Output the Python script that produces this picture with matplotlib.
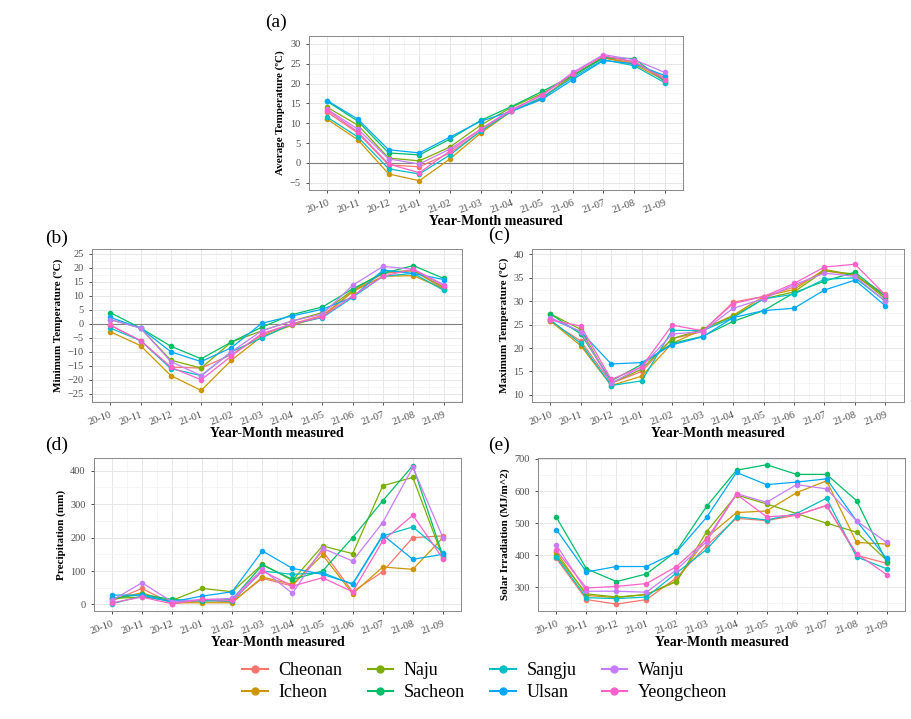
import numpy as np
import matplotlib
matplotlib.use("Agg")
import matplotlib.pyplot as plt
from matplotlib.ticker import MultipleLocator
from matplotlib.lines import Line2D

plt.rcParams['font.family'] = ['Liberation Serif', 'DejaVu Serif']

months = ['20-10', '20-11', '20-12', '21-01', '21-02', '21-03',
          '21-04', '21-05', '21-06', '21-07', '21-08', '21-09']
sites = ['Cheonan', 'Icheon', 'Naju', 'Sacheon', 'Sangju', 'Ulsan', 'Wanju', 'Yeongcheon']
colors = ['#F8766D', '#CD9600', '#7CAE00', '#00BE67', '#00BFC4', '#00A9FF', '#C77CFF', '#FF61CC']

# (a) average temperature
avg_temp = {
    'Cheonan':    [12.8, 7.5, -0.5, -1.0, 2.5, 8.0, 13.0, 16.5, 22.0, 26.5, 25.2, 21.5],
    'Icheon':     [11.0, 5.8, -2.8, -4.5, 1.0, 7.5, 13.0, 16.2, 22.0, 26.5, 24.8, 20.8],
    'Naju':       [14.0, 9.5, 1.2, 0.5, 4.0, 9.5, 14.0, 17.5, 22.0, 26.8, 25.5, 21.0],
    'Sacheon':    [15.5, 10.5, 2.5, 2.0, 6.0, 10.7, 14.2, 18.0, 22.0, 26.5, 26.3, 20.5],
    'Sangju':     [11.5, 6.5, -1.5, -2.8, 2.0, 8.0, 13.0, 16.5, 21.5, 26.0, 24.5, 20.2],
    'Ulsan':      [15.7, 11.0, 3.3, 2.5, 6.5, 10.5, 13.0, 16.0, 21.0, 25.8, 25.0, 22.0],
    'Wanju':      [13.5, 8.5, 1.0, -0.3, 3.5, 8.5, 13.5, 17.0, 22.8, 27.3, 26.0, 22.8],
    'Yeongcheon': [13.3, 7.8, -0.3, -2.5, 3.0, 8.5, 13.2, 17.2, 22.5, 27.0, 25.5, 21.0],
}
# (b) minimum temperature
min_temp = {
    'Cheonan':    [-0.5, -6.0, -15.5, -15.8, -11.0, -4.0, 0.0, 3.0, 11.5, 18.0, 19.0, 12.5],
    'Icheon':     [-2.8, -7.8, -18.5, -23.8, -13.0, -4.5, -0.5, 2.5, 11.5, 17.0, 17.2, 12.5],
    'Naju':       [1.5, -1.5, -13.0, -15.8, -6.5, -2.5, 1.0, 4.0, 12.0, 18.5, 19.0, 13.0],
    'Sacheon':    [4.0, -1.5, -8.0, -12.5, -6.5, -1.2, 3.3, 6.0, 12.5, 18.0, 20.8, 16.2],
    'Sangju':     [-1.5, -6.0, -16.0, -18.5, -10.0, -5.0, 0.0, 2.2, 9.5, 17.0, 18.0, 12.0],
    'Ulsan':      [2.3, -1.5, -10.0, -13.5, -8.5, 0.2, 2.8, 5.2, 9.5, 19.2, 18.0, 15.8],
    'Wanju':      [1.5, -1.5, -13.5, -18.5, -10.0, -2.5, 1.0, 3.5, 13.8, 20.5, 19.5, 14.0],
    'Yeongcheon': [-0.5, -6.0, -15.5, -20.0, -11.5, -3.5, 0.0, 2.5, 10.0, 17.0, 19.5, 13.5],
}
# (c) maximum temperature
max_temp = {
    'Cheonan':    [25.7, 21.5, 12.5, 15.0, 22.0, 23.5, 29.8, 31.0, 33.0, 36.5, 35.5, 31.5],
    'Icheon':     [25.8, 20.5, 12.0, 14.0, 21.0, 24.0, 27.0, 31.0, 32.5, 36.8, 35.5, 31.0],
    'Naju':       [27.3, 24.0, 12.5, 15.5, 22.0, 24.0, 26.8, 30.5, 32.0, 36.5, 35.8, 30.5],
    'Sacheon':    [27.3, 23.0, 13.0, 16.5, 21.0, 22.5, 25.7, 28.0, 31.8, 34.3, 36.2, 31.0],
    'Sangju':     [26.0, 21.0, 12.0, 13.0, 23.8, 23.7, 26.5, 30.5, 31.5, 34.7, 35.0, 30.0],
    'Ulsan':      [26.3, 23.5, 16.6, 16.9, 20.7, 22.4, 26.5, 28.0, 28.5, 32.4, 34.5, 29.0],
    'Wanju':      [26.5, 23.5, 12.5, 16.0, 23.0, 23.5, 28.5, 30.5, 33.5, 36.0, 35.3, 30.0],
    'Yeongcheon': [26.0, 24.7, 13.3, 16.0, 24.9, 23.7, 29.5, 31.0, 33.8, 37.3, 37.9, 31.3],
}
# (d) precipitation
precip = {
    'Cheonan':    [10, 48, 2, 12, 8, 78, 55, 160, 38, 98, 200, 205],
    'Icheon':     [15, 35, 5, 5, 5, 82, 60, 148, 32, 112, 105, 200],
    'Naju':       [18, 22, 12, 48, 38, 120, 72, 175, 152, 355, 380, 140],
    'Sacheon':    [18, 30, 15, 10, 15, 118, 75, 100, 200, 310, 415, 145],
    'Sangju':     [2, 25, 8, 12, 10, 100, 90, 95, 60, 205, 232, 155],
    'Ulsan':      [28, 28, 8, 25, 38, 160, 108, 90, 62, 208, 135, 150],
    'Wanju':      [12, 65, 8, 15, 18, 105, 33, 168, 130, 245, 410, 200],
    'Yeongcheon': [5, 22, 2, 15, 12, 100, 55, 80, 38, 190, 267, 137],
}
# (e) solar irradiation
solar = {
    'Cheonan':    [390, 262, 248, 262, 330, 430, 515, 508, 525, 555, 400, 375],
    'Icheon':     [410, 275, 268, 278, 320, 455, 533, 538, 595, 632, 440, 435],
    'Naju':       [400, 280, 270, 278, 318, 473, 588, 560, 530, 500, 472, 385],
    'Sacheon':    [518, 358, 318, 342, 413, 552, 665, 682, 652, 652, 570, 380],
    'Sangju':     [395, 268, 265, 270, 345, 418, 520, 510, 530, 578, 395, 358],
    'Ulsan':      [480, 348, 365, 365, 410, 518, 658, 620, 628, 638, 507, 390],
    'Wanju':      [432, 288, 288, 285, 355, 442, 592, 565, 620, 607, 507, 440],
    'Yeongcheon': [415, 298, 303, 312, 365, 450, 590, 520, 525, 555, 405, 340],
}

fig = plt.figure(figsize=(9.11, 7.19), dpi=100)


def panel(rect, data, ylabel, ylim, ystep, tag, tagpos, hline=False):
    ax = fig.add_axes(rect)
    x = np.arange(len(months))
    ax.set_xlim(-0.6, len(months) - 0.4)
    ax.set_ylim(*ylim)
    ax.yaxis.set_major_locator(MultipleLocator(ystep))
    ax.yaxis.set_minor_locator(MultipleLocator(ystep / 2))
    ax.set_xticks(x)
    ax.set_xticks(x[:-1] + 0.5, minor=True)
    ax.grid(which='major', color='#E6E6E6', lw=0.7)
    ax.grid(which='minor', color='#F2F2F2', lw=0.5)
    ax.set_axisbelow(True)
    if hline:
        ax.axhline(0, color='#7F7F7F', lw=0.8, zorder=1)
    for s, c in zip(sites, colors):
        ax.plot(x, data[s], color=c, lw=0.9, marker='o', ms=3, zorder=3)
    ax.set_xticklabels(months, rotation=20, ha='right', fontsize=7.5, color='#4D4D4D',
                       rotation_mode='anchor')
    ax.tick_params(axis='y', labelsize=7.5, labelcolor='#4D4D4D')
    ax.tick_params(which='major', length=2.5, color='#333333', width=0.6)
    ax.tick_params(which='minor', length=0)
    for sp in ax.spines.values():
        sp.set_color('#888888')
        sp.set_linewidth(0.7)
    ax.set_ylabel(ylabel, fontsize=8, fontweight='bold', labelpad=3)
    ax.set_xlabel('Year-Month measured', fontsize=10, fontweight='bold', labelpad=0)
    fig.text(tagpos[0], tagpos[1], tag, fontsize=14, va='center', ha='left')
    return ax


panel([0.339, 0.736, 0.411, 0.214], avg_temp, 'Average Temperature (ºC)', (-6.8, 32), 5,
      '(a)', (0.291, 0.969), hline=True)
panel([0.101, 0.441, 0.406, 0.213], min_temp, 'Minimum Temperature (ºC)', (-27.9, 26.8), 5,
      '(b)', (0.049, 0.669), hline=True)
panel([0.584, 0.441, 0.408, 0.213], max_temp, 'Maximum Temperature (ºC)', (8.5, 41.2), 5,
      '(c)', (0.536, 0.672))
panel([0.103, 0.150, 0.403, 0.213], precip, 'Precipitation (mm)', (-20, 438), 100,
      '(d)', (0.049, 0.381))
panel([0.591, 0.150, 0.402, 0.213], solar, 'Solar Irradiation (MJ/m^2)', (226, 703), 100,
      '(e)', (0.536, 0.381))

handles = [Line2D([0], [0], color=c, lw=1.5, marker='o', ms=5) for c in colors]
fig.legend(handles, sites, loc='center', bbox_to_anchor=(0.532, 0.052), ncol=4,
           frameon=False, fontsize=13, handlelength=1.4, columnspacing=1.4,
           labelspacing=0.3, handletextpad=0.6)

fig.savefig('out.png', dpi=100)
